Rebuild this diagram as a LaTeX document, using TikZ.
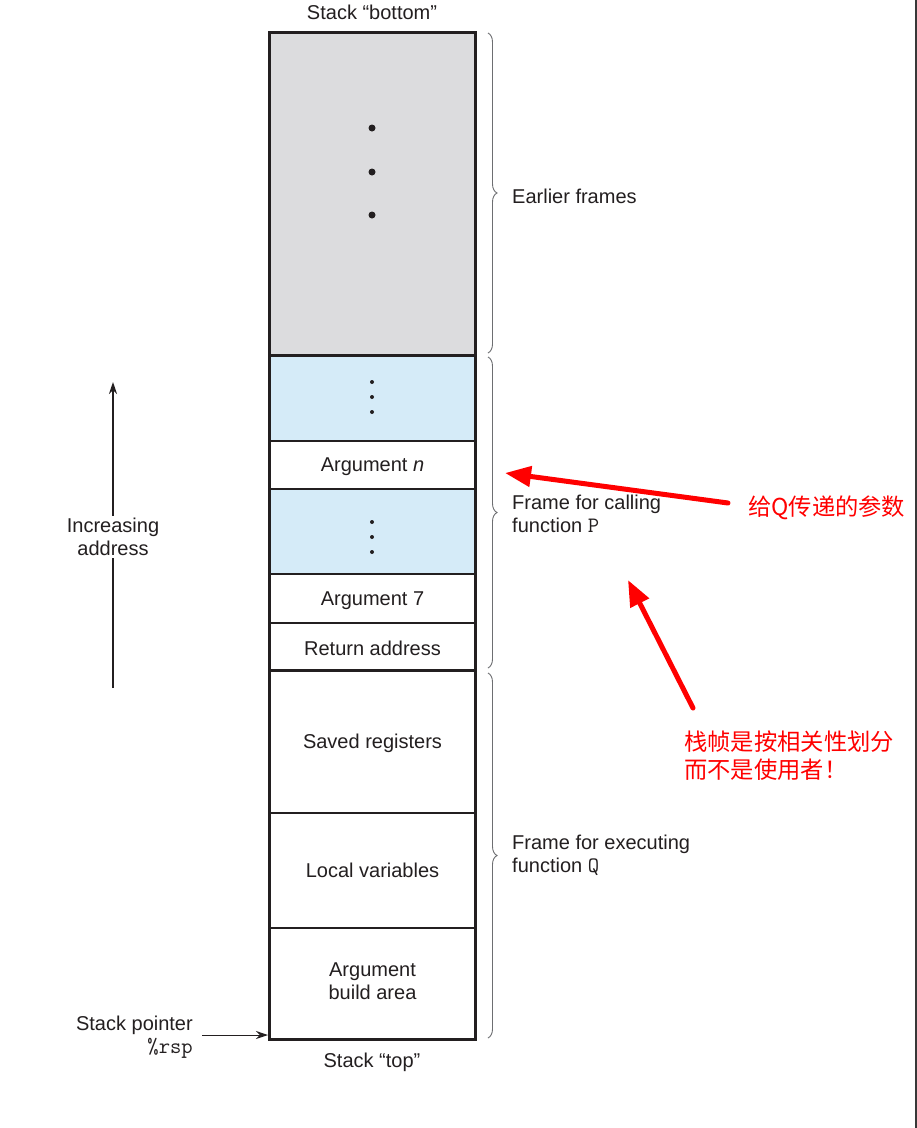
\documentclass[tikz,border=0pt]{standalone}
\usepackage{fontspec}
\setmainfont{Liberation Sans}
\newfontfamily\cjk{Noto Sans CJK SC}
\usetikzlibrary{arrows.meta,decorations.pathreplacing}
\definecolor{graycell}{HTML}{DCDCDE}
\definecolor{bluecell}{HTML}{D5EBF8}
\definecolor{ink}{HTML}{231F20}
\definecolor{braceg}{HTML}{6D6E71}
\definecolor{redann}{HTML}{FF0000}
\newcommand{\code}[1]{{\ttfamily\fontsize{22}{23}\selectfont #1}}
\begin{document}
\begin{tikzpicture}[x=1pt,y=-1pt,
  every node/.style={font=\fontsize{20}{23}\selectfont, text=ink},
  cell/.style={draw=ink, line width=1.1pt, minimum width=205pt, inner sep=0pt, anchor=center},
  celltext/.style={inner sep=0pt, anchor=center, align=center},
  bracestyle/.style={draw=braceg, line width=0.9pt, decorate, decoration={brace, amplitude=9pt}},
  lbl/.style={anchor=west, align=left, inner sep=0pt},
  redarrow/.style={draw=redann, line width=5pt, -{Triangle[length=26pt,width=20pt]}},
  redtext/.style={font=\cjk\fontsize{23.3}{28}\selectfont, text=redann, anchor=west, align=left, inner sep=0pt},
  blackarrow/.style={draw=ink, line width=1.2pt, -{Stealth[length=12pt,width=8pt]}},
  bigdot/.style={circle, fill=ink, inner sep=0pt, minimum size=7pt},
  smalldot/.style={circle, fill=ink, inner sep=0pt, minimum size=4pt}
]
\useasboundingbox (0,0) rectangle (917,1128);
\fill[white] (0,0) rectangle (917,1128);
\fill[black!78] (914.5,0) rectangle (917,1128);

% cells
\node[cell, fill=graycell, minimum height=322pt] (gray) at (372.5,194) {};
\node[cell, fill=bluecell, minimum height=86pt] (blue1) at (372.5,398) {};
\node[cell, minimum height=48pt] (argn) at (372.5,465) {};
\node[cell, fill=bluecell, minimum height=85pt] (blue2) at (372.5,531.5) {};
\node[cell, minimum height=49pt] (arg7) at (372.5,598.5) {};
\node[cell, minimum height=47pt] (ret) at (372.5,646.5) {};
\node[cell, minimum height=143pt] (saved) at (372.5,741.5) {};
\node[cell, minimum height=115pt] (local) at (372.5,870.5) {};
\node[cell, minimum height=111pt] (build) at (372.5,983.5) {};

% cell texts
\node[celltext] (targn) at (372.5,467) {Argument \textit{n}};
\node[celltext] (targ7) at (372.5,601) {Argument 7};
\node[celltext] (tret) at (372.5,648.5) {Return address};
\node[celltext] (tsaved) at (372.5,743.5) {Saved registers};
\node[celltext] (tlocal) at (372.5,870) {Local variables};
\node[celltext] (tbuild) at (372.5,981) {Argument\\build area};

% thick outlines and frame boundaries
\draw[ink, line width=2.6pt] (gray.north west) rectangle (build.south east);
\draw[ink, line width=2.6pt] (gray.south west) -- (gray.south east);
\draw[ink, line width=2.6pt] (ret.south west) -- (ret.south east);

% dots
\node[bigdot] (d1) at (372,128) {};
\node[bigdot] (d2) at (372,172) {};
\node[bigdot] (d3) at (372,215) {};
\node[smalldot] (e1) at (372,382) {};
\node[smalldot] (e2) at (372,397) {};
\node[smalldot] (e3) at (372,412) {};
\node[smalldot] (f1) at (372,522) {};
\node[smalldot] (f2) at (372,537) {};
\node[smalldot] (f3) at (372,552) {};

% top / bottom labels
\node (sbot) at (372,12) {Stack “bottom”};
\node (stop) at (372,1062) {Stack “top”};

% braces
\coordinate (b1t) at (488,33);  \coordinate (b1b) at (488,353);
\coordinate (b2t) at (488,357); \coordinate (b2b) at (488,668);
\coordinate (b3t) at (488,673); \coordinate (b3b) at (488,1038);
\draw[bracestyle] (b1t) -- (b1b);
\draw[bracestyle] (b2t) -- (b2b);
\draw[bracestyle] (b3t) -- (b3b);
\node[lbl] (earlier) at (512,196) {Earlier frames};
\node[lbl] (calling) at (512,514) {Frame for calling\\function \code{P}};
\node[lbl] (exec) at (512,855) {Frame for executing\\function \code{Q}};

% increasing address
\node[align=center, inner sep=2pt] (inc) at (113,537) {Increasing\\address};
\coordinate (incbot) at (113,688);
\coordinate (inctop) at (113,382);
\draw[ink, line width=1.2pt] (incbot) -- (inc.south);
\draw[blackarrow] (inc.north) -- (inctop);

% stack pointer
\node[align=right, anchor=east, inner sep=0pt] (sp) at (193,1037) {Stack pointer\\\code{\%rsp}};
\coordinate (spend) at (268,1035);
\draw[blackarrow, line width=1pt] (202,1035) -- (spend);

% red annotations
\node[redtext] (t1) at (748,508) {给Q传递的参数};
\node[redtext] (t2) at (684,756) {栈帧是按相关性划分\\而不是使用者！};
\coordinate (a1s) at (728,503);
\coordinate (a1e) at (505,473);
\coordinate (a2s) at (693,708);
\coordinate (a2e) at (628,580);
\draw[redarrow, line cap=round] (a1s) -- (a1e);
\draw[redarrow, line cap=round] (a2s) -- (a2e);
\end{tikzpicture}
\end{document}
